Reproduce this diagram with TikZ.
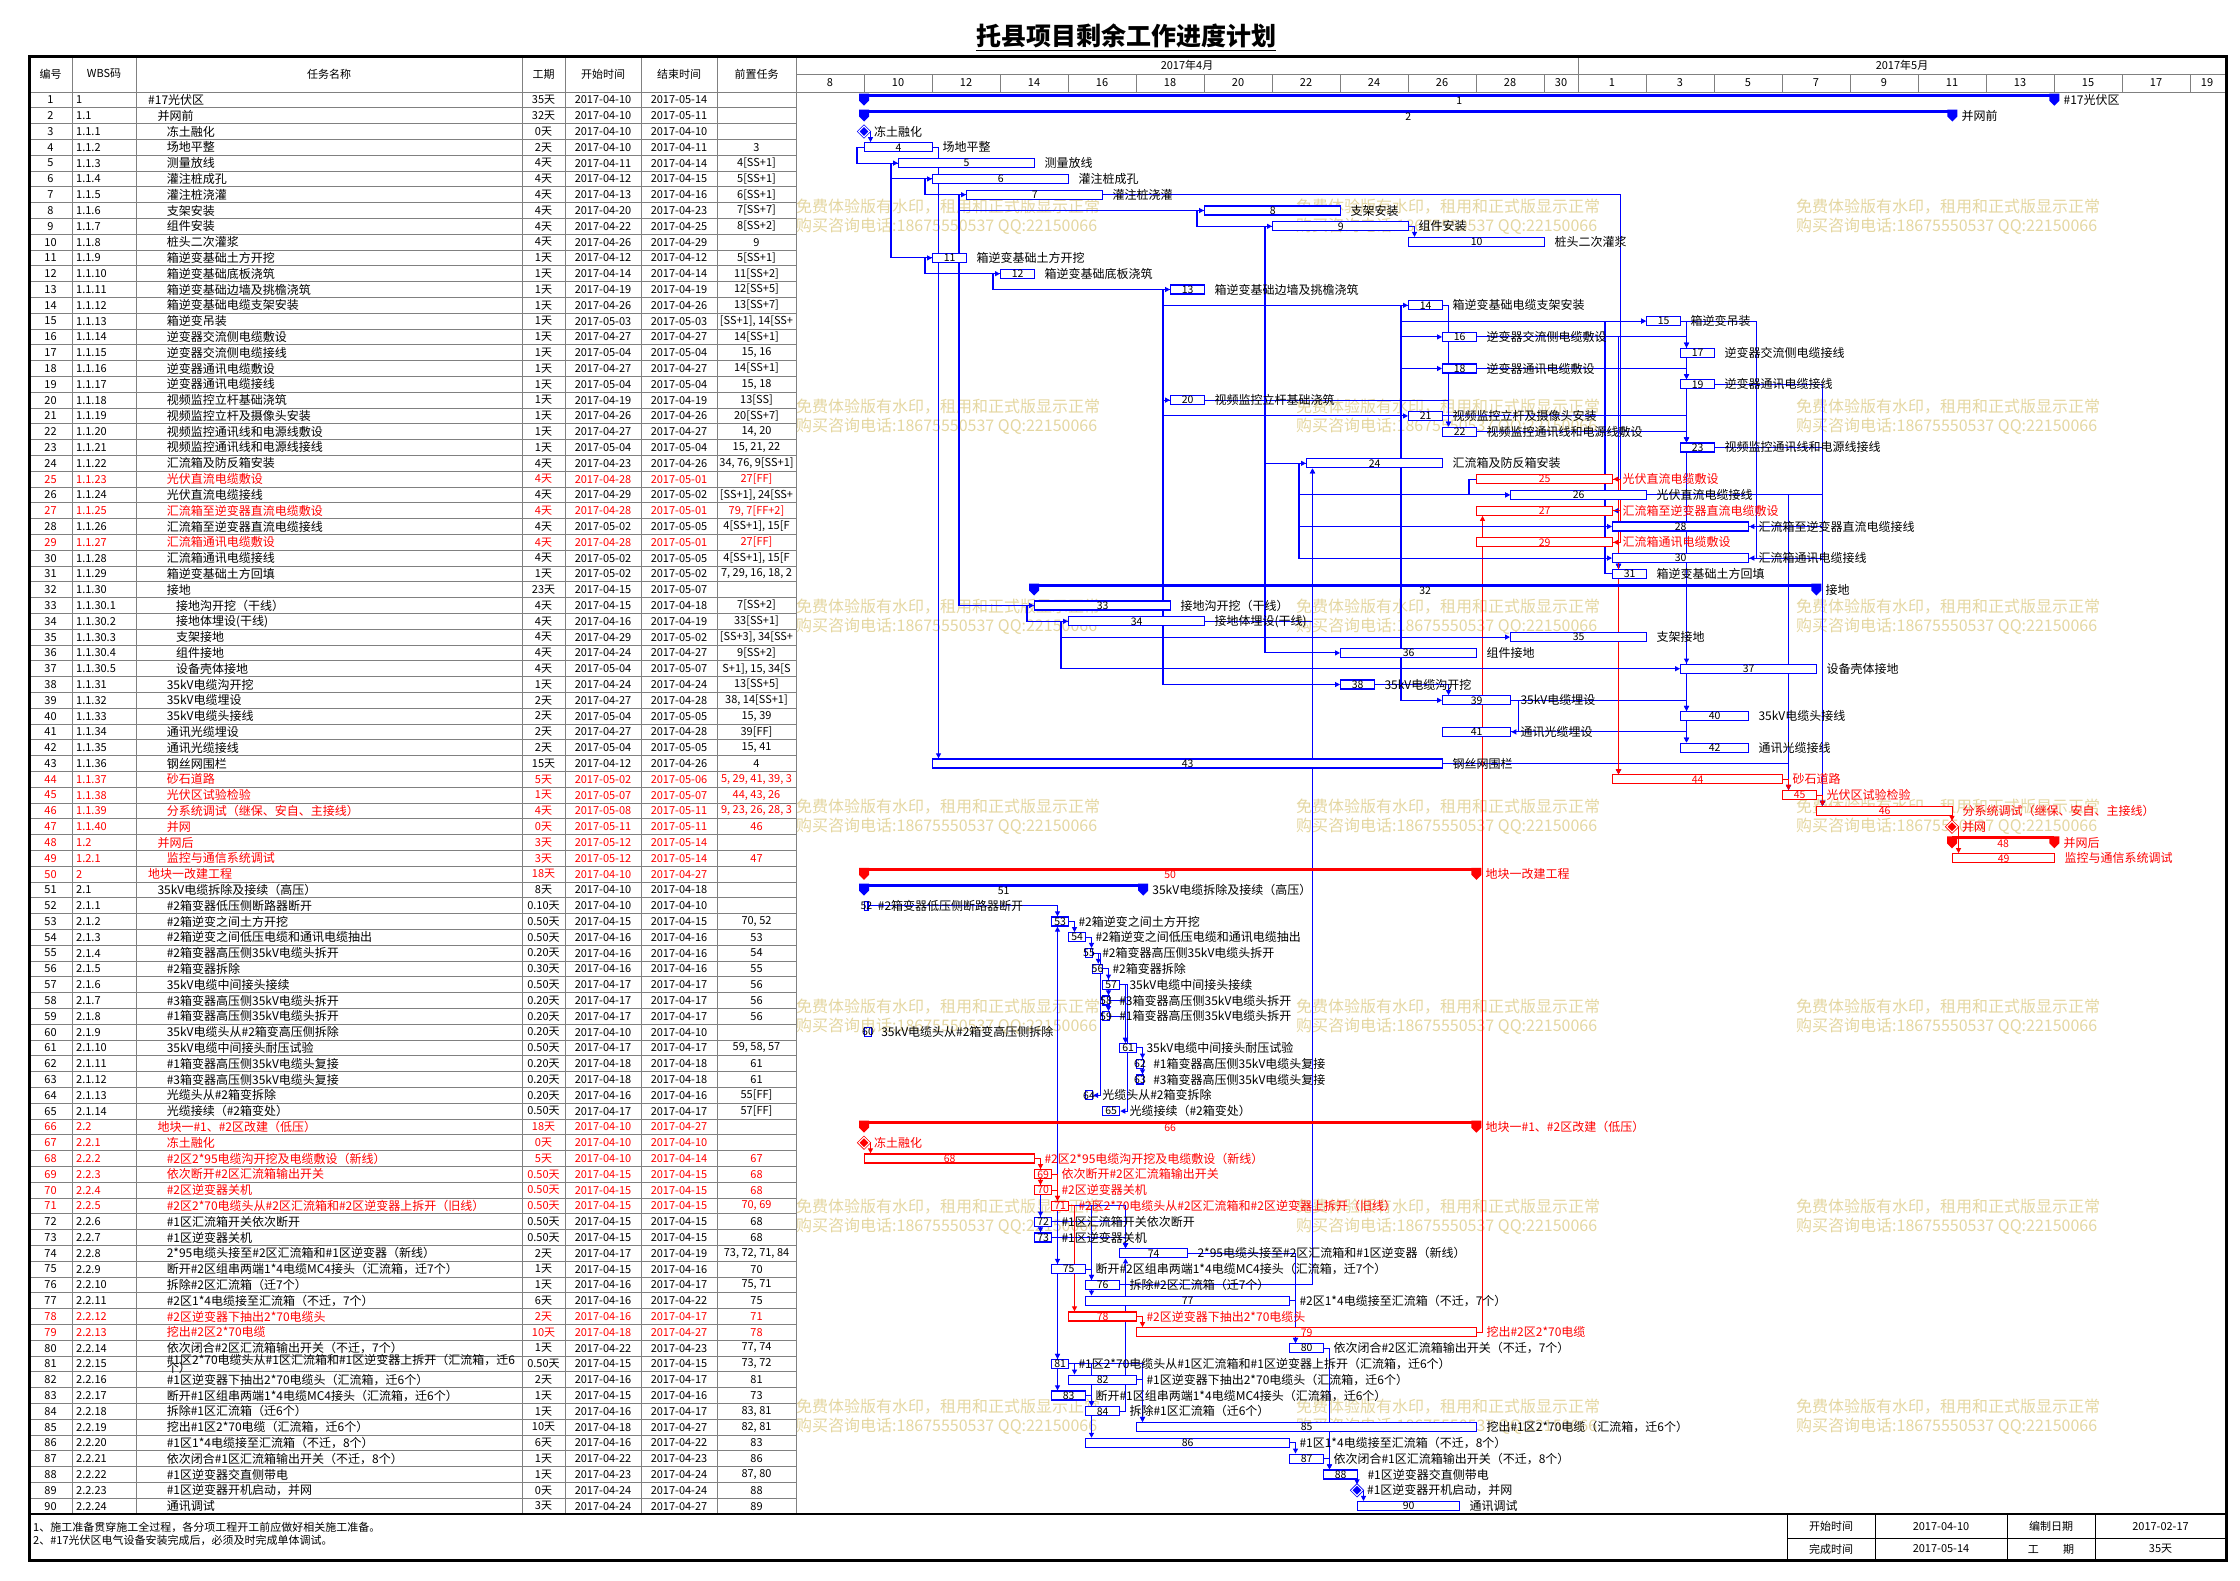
\documentclass[tikz,border=0pt]{standalone}
\usepackage{fontspec}
\setmainfont{Noto Sans CJK SC}
\usetikzlibrary{positioning, arrows.meta, shapes.geometric, backgrounds}
\definecolor{gridgray}{RGB}{128,128,128}
\definecolor{wmark}{RGB}{228,214,160}
\colorlet{barblack}{blue}
\colorlet{barred}{red}

\begin{document}
\begin{tikzpicture}[x=1pt, y=-1pt,
every node/.style={inner sep=0pt, font=\fontsize{11}{12}\selectfont},
grid line/.style={draw=gridgray, line width=0.8pt},
task bar/.style={draw, fill=white, line width=1.3pt, minimum height=9pt, anchor=west},
sum line/.style={minimum height=9pt, anchor=west},
mile/.style={diamond, draw, double=white, double distance=1pt, line width=0.8pt, minimum size=11pt},
num/.style={font=\fontsize{10.5}{11}\selectfont},
lbl/.style={font=\fontsize{12}{13}\selectfont},
wm/.style={anchor=west, text=wmark, font=\fontsize{16}{18}\selectfont},
link/.style={-{Triangle[length=5pt,width=5pt]}, blue, line width=1.1pt},
crit link/.style={link, red},
sumend/.pic={\fill (-5pt,1.5pt) -- (5pt,1.5pt) -- (5pt,-5.5pt) -- (0pt,-10.5pt) -- (-5pt,-5.5pt) -- cycle;},
]
\useasboundingbox (0,0) rectangle (2240,1580);

% watermark
\begin{scope}[on background layer]
\foreach \wx in {796,1296,1796}
  \foreach \wy in {207,407,...,1407} {
    \node[wm] (wa\wx\wy) at (\wx,\wy) {免费体验版有水印，租用和正式版显示正常};
    \node[wm] (wb\wx\wy) at (\wx,\wy+19) {购买咨询电话:18675550537 QQ:22150066};
  }
\end{scope}

% title
\node[font=\fontsize{25}{28}\selectfont\bfseries] (title) at (1126,36) {托县项目剩余工作进度计划};
\draw[line width=1.2pt] ([yshift=-2pt]title.south west) -- ([yshift=-2pt]title.south east);

% table grid
\foreach \rw in {1,...,89}
  \draw[grid line] (29,{92+15.8*\rw}) -- (796,{92+15.8*\rw});
\foreach \cx in {72,136,522,565,641,717,796}
  \draw[grid line] (\cx,56) -- (\cx,1514);
\draw[grid line] (29,92) -- (2226,92);
\draw[grid line] (796,74) -- (2226,74);

% table header
\node (h1) at (50.5,74) {编号};
\node (h2) at (104,74) {WBS码};
\node (h3) at (329,74) {任务名称};
\node (h4) at (543.5,74) {工期};
\node (h5) at (603,74) {开始时间};
\node (h6) at (679,74) {结束时间};
\node (h7) at (756.5,74) {前置任务};

% time scale
\node (m4) at (1187,65) {2017年4月};
\node (m5) at (1902,65) {2017年5月};
\draw[grid line] (1578,56) -- (1578,92);
\foreach \dy in {8,10,...,28} {
  \node (da\dy) at ({796+(\dy-8)*34+34},83) {\dy};
  \draw[grid line] ({796+(\dy-8)*34+68},74) -- ({796+(\dy-8)*34+68},92);
}
\node (da30) at (1561,83) {30};
\foreach \dy in {1,3,...,17} {
  \node (db\dy) at ({1578+(\dy-1)*34+34},83) {\dy};
  \draw[grid line] ({1578+(\dy-1)*34+68},74) -- ({1578+(\dy-1)*34+68},92);
}
\node (db19) at (2207,83) {19};

% tasks: table row and bar
\foreach \id/\wbs/\lv/\nm/\du/\st/\en/\pr/\cl/\ty/\bs/\bd in {
1/1/0/{\#17光伏区}/35天/04-10/05-14/{}/black/S/10/35,
2/1.1/1/{并网前}/32天/04-10/05-11/{}/black/S/10/32,
3/1.1.1/2/{冻土融化}/0天/04-10/04-10/{}/black/M/10/0,
4/1.1.2/2/{场地平整}/2天/04-10/04-11/3/black/T/10/2,
5/1.1.3/2/{测量放线}/4天/04-11/04-14/{4[SS+1]}/black/T/11/4,
6/1.1.4/2/{灌注桩成孔}/4天/04-12/04-15/{5[SS+1]}/black/T/12/4,
7/1.1.5/2/{灌注桩浇灌}/4天/04-13/04-16/{6[SS+1]}/black/T/13/4,
8/1.1.6/2/{支架安装}/4天/04-20/04-23/{7[SS+7]}/black/T/20/4,
9/1.1.7/2/{组件安装}/4天/04-22/04-25/{8[SS+2]}/black/T/22/4,
10/1.1.8/2/{桩头二次灌浆}/4天/04-26/04-29/9/black/T/26/4,
11/1.1.9/2/{箱逆变基础土方开挖}/1天/04-12/04-12/{5[SS+1]}/black/T/12/1,
12/1.1.10/2/{箱逆变基础底板浇筑}/1天/04-14/04-14/{11[SS+2]}/black/T/14/1,
13/1.1.11/2/{箱逆变基础边墙及挑檐浇筑}/1天/04-19/04-19/{12[SS+5]}/black/T/19/1,
14/1.1.12/2/{箱逆变基础电缆支架安装}/1天/04-26/04-26/{13[SS+7]}/black/T/26/1,
15/1.1.13/2/{箱逆变吊装}/1天/05-03/05-03/{[SS+1], 14[SS+}/black/T/33/1,
16/1.1.14/2/{逆变器交流侧电缆敷设}/1天/04-27/04-27/{14[SS+1]}/black/T/27/1,
17/1.1.15/2/{逆变器交流侧电缆接线}/1天/05-04/05-04/{15, 16}/black/T/34/1,
18/1.1.16/2/{逆变器通讯电缆敷设}/1天/04-27/04-27/{14[SS+1]}/black/T/27/1,
19/1.1.17/2/{逆变器通讯电缆接线}/1天/05-04/05-04/{15, 18}/black/T/34/1,
20/1.1.18/2/{视频监控立杆基础浇筑}/1天/04-19/04-19/{13[SS]}/black/T/19/1,
21/1.1.19/2/{视频监控立杆及摄像头安装}/1天/04-26/04-26/{20[SS+7]}/black/T/26/1,
22/1.1.20/2/{视频监控通讯线和电源线敷设}/1天/04-27/04-27/{14, 20}/black/T/27/1,
23/1.1.21/2/{视频监控通讯线和电源线接线}/1天/05-04/05-04/{15, 21, 22}/black/T/34/1,
24/1.1.22/2/{汇流箱及防反箱安装}/4天/04-23/04-26/{34, 76, 9[SS+1]}/black/T/23/4,
25/1.1.23/2/{光伏直流电缆敷设}/4天/04-28/05-01/{27[FF]}/red/T/28/4,
26/1.1.24/2/{光伏直流电缆接线}/4天/04-29/05-02/{[SS+1], 24[SS+}/black/T/29/4,
27/1.1.25/2/{汇流箱至逆变器直流电缆敷设}/4天/04-28/05-01/{79, 7[FF+2]}/red/T/28/4,
28/1.1.26/2/{汇流箱至逆变器直流电缆接线}/4天/05-02/05-05/{4[SS+1], 15[F}/black/T/32/4,
29/1.1.27/2/{汇流箱通讯电缆敷设}/4天/04-28/05-01/{27[FF]}/red/T/28/4,
30/1.1.28/2/{汇流箱通讯电缆接线}/4天/05-02/05-05/{4[SS+1], 15[F}/black/T/32/4,
31/1.1.29/2/{箱逆变基础土方回填}/1天/05-02/05-02/{7, 29, 16, 18, 2}/black/T/32/1,
32/1.1.30/2/{接地}/23天/04-15/05-07/{}/black/S/15/23,
33/1.1.30.1/3/{接地沟开挖（干线）}/4天/04-15/04-18/{7[SS+2]}/black/T/15/4,
34/1.1.30.2/3/{接地体埋设(干线)}/4天/04-16/04-19/{33[SS+1]}/black/T/16/4,
35/1.1.30.3/3/{支架接地}/4天/04-29/05-02/{[SS+3], 34[SS+}/black/T/29/4,
36/1.1.30.4/3/{组件接地}/4天/04-24/04-27/{9[SS+2]}/black/T/24/4,
37/1.1.30.5/3/{设备壳体接地}/4天/05-04/05-07/{S+1], 15, 34[S}/black/T/34/4,
38/1.1.31/2/{35kV电缆沟开挖}/1天/04-24/04-24/{13[SS+5]}/black/T/24/1,
39/1.1.32/2/{35kV电缆埋设}/2天/04-27/04-28/{38, 14[SS+1]}/black/T/27/2,
40/1.1.33/2/{35kV电缆头接线}/2天/05-04/05-05/{15, 39}/black/T/34/2,
41/1.1.34/2/{通讯光缆埋设}/2天/04-27/04-28/{39[FF]}/black/T/27/2,
42/1.1.35/2/{通讯光缆接线}/2天/05-04/05-05/{15, 41}/black/T/34/2,
43/1.1.36/2/{钢丝网围栏}/15天/04-12/04-26/4/black/T/12/15,
44/1.1.37/2/{砂石道路}/5天/05-02/05-06/{5, 29, 41, 39, 3}/red/T/32/5,
45/1.1.38/2/{光伏区试验检验}/1天/05-07/05-07/{44, 43, 26}/red/T/37/1,
46/1.1.39/2/{分系统调试（继保、安自、主接线）}/4天/05-08/05-11/{9, 23, 26, 28, 3}/red/T/38/4,
47/1.1.40/2/{并网}/0天/05-11/05-11/46/red/M/42/0,
48/1.2/1/{并网后}/3天/05-12/05-14/{}/red/S/42/3,
49/1.2.1/2/{监控与通信系统调试}/3天/05-12/05-14/47/red/T/42/3,
50/2/0/{地块一改建工程}/18天/04-10/04-27/{}/red/S/10/18,
51/2.1/1/{35kV电缆拆除及接续（高压）}/8天/04-10/04-18/{}/black/S/10/8.2,
52/2.1.1/2/{\#2箱变器低压侧断路器断开}/0.10天/04-10/04-10/{}/black/T/10/0.1,
53/2.1.2/2/{\#2箱逆变之间土方开挖}/0.50天/04-15/04-15/{70, 52}/black/T/15.5/0.5,
54/2.1.3/2/{\#2箱逆变之间低压电缆和通讯电缆抽出}/0.50天/04-16/04-16/53/black/T/16/0.5,
55/2.1.4/2/{\#2箱变器高压侧35kV电缆头拆开}/0.20天/04-16/04-16/54/black/T/16.5/0.2,
56/2.1.5/2/{\#2箱变器拆除}/0.30天/04-16/04-16/55/black/T/16.7/0.3,
57/2.1.6/2/{35kV电缆中间接头接续}/0.50天/04-17/04-17/56/black/T/17/0.5,
58/2.1.7/2/{\#3箱变器高压侧35kV电缆头拆开}/0.20天/04-17/04-17/56/black/T/17/0.2,
59/2.1.8/2/{\#1箱变器高压侧35kV电缆头拆开}/0.20天/04-17/04-17/56/black/T/17/0.2,
60/2.1.9/2/{35kV电缆头从\#2箱变高压侧拆除}/0.20天/04-10/04-10/{}/black/T/10/0.2,
61/2.1.10/2/{35kV电缆中间接头耐压试验}/0.50天/04-17/04-17/{59, 58, 57}/black/T/17.5/0.5,
62/2.1.11/2/{\#1箱变器高压侧35kV电缆头复接}/0.20天/04-18/04-18/61/black/T/18/0.2,
63/2.1.12/2/{\#3箱变器高压侧35kV电缆头复接}/0.20天/04-18/04-18/61/black/T/18/0.2,
64/2.1.13/2/{光缆头从\#2箱变拆除}/0.20天/04-16/04-16/{55[FF]}/black/T/16.5/0.2,
65/2.1.14/2/{光缆接续（\#2箱变处）}/0.50天/04-17/04-17/{57[FF]}/black/T/17/0.5,
66/2.2/1/{地块一\#1、\#2区改建（低压）}/18天/04-10/04-27/{}/red/S/10/18,
67/2.2.1/2/{冻土融化}/0天/04-10/04-10/{}/red/M/10/0,
68/2.2.2/2/{\#2区2*95电缆沟开挖及电缆敷设（新线）}/5天/04-10/04-14/67/red/T/10/5,
69/2.2.3/2/{依次断开\#2区汇流箱输出开关}/0.50天/04-15/04-15/68/red/T/15/0.5,
70/2.2.4/2/{\#2区逆变器关机}/0.50天/04-15/04-15/68/red/T/15/0.5,
71/2.2.5/2/{\#2区2*70电缆头从\#2区汇流箱和\#2区逆变器上拆开（旧线）}/0.50天/04-15/04-15/{70, 69}/red/T/15.5/0.5,
72/2.2.6/2/{\#1区汇流箱开关依次断开}/0.50天/04-15/04-15/68/black/T/15/0.5,
73/2.2.7/2/{\#1区逆变器关机}/0.50天/04-15/04-15/68/black/T/15/0.5,
74/2.2.8/2/{2*95电缆头接至\#2区汇流箱和\#1区逆变器（新线）}/2天/04-17/04-19/{73, 72, 71, 84}/black/T/17.5/2,
75/2.2.9/2/{断开\#2区组串两端1*4电缆MC4接头（汇流箱，迁7个）}/1天/04-15/04-16/70/black/T/15.5/1,
76/2.2.10/2/{拆除\#2区汇流箱（迁7个）}/1天/04-16/04-17/{75, 71}/black/T/16.5/1,
77/2.2.11/2/{\#2区1*4电缆接至汇流箱（不迁，7个）}/6天/04-16/04-22/75/black/T/16.5/6,
78/2.2.12/2/{\#2区逆变器下抽出2*70电缆头}/2天/04-16/04-17/71/red/T/16/2,
79/2.2.13/2/{挖出\#2区2*70电缆}/10天/04-18/04-27/78/red/T/18/10,
80/2.2.14/2/{依次闭合\#2区汇流箱输出开关（不迁，7个）}/1天/04-22/04-23/{77, 74}/black/T/22.5/1,
81/2.2.15/2/{\#1区2*70电缆头从\#1区汇流箱和\#1区逆变器上拆开（汇流箱，迁6个）}/0.50天/04-15/04-15/{73, 72}/black/T/15.5/0.5,
82/2.2.16/2/{\#1区逆变器下抽出2*70电缆头（汇流箱，迁6个）}/2天/04-16/04-17/81/black/T/16/2,
83/2.2.17/2/{断开\#1区组串两端1*4电缆MC4接头（汇流箱，迁6个）}/1天/04-15/04-16/73/black/T/15.5/1,
84/2.2.18/2/{拆除\#1区汇流箱（迁6个）}/1天/04-16/04-17/{83, 81}/black/T/16.5/1,
85/2.2.19/2/{挖出\#1区2*70电缆（汇流箱，迁6个）}/10天/04-18/04-27/{82, 81}/black/T/18/10,
86/2.2.20/2/{\#1区1*4电缆接至汇流箱（不迁，8个）}/6天/04-16/04-22/83/black/T/16.5/6,
87/2.2.21/2/{依次闭合\#1区汇流箱输出开关（不迁，8个）}/1天/04-22/04-23/86/black/T/22.5/1,
88/2.2.22/2/{\#1区逆变器交直侧带电}/1天/04-23/04-24/{87, 80}/black/T/23.5/1,
89/2.2.23/2/{\#1区逆变器开机启动，并网}/0天/04-24/04-24/88/black/M/24.5/0,
90/2.2.24/2/{通讯调试}/3天/04-24/04-27/89/black/T/24.5/3%
} {
  \node[text=\cl] (no\id) at (50.5,{84.1+15.8*\id}) {\id};
  \node[text=\cl, anchor=west] (wbs\id) at (76,{84.1+15.8*\id}) {\wbs};
  \ifnum\id=81
    \node[lbl, text=\cl, anchor=west, align=left] (nm\id) at ({148+9.3*\lv},{84.1+15.8*\id})
      {\#1区2*70电缆头从\#1区汇流箱和\#1区逆变器上拆开（汇流箱，迁6\\[-5pt]个）};
  \else
    \node[lbl, text=\cl, anchor=west] (nm\id) at ({148+9.3*\lv},{84.1+15.8*\id}) {\nm};
  \fi
  \node[text=\cl] (du\id) at (543.5,{84.1+15.8*\id}) {\du};
  \node[text=\cl] (st\id) at (603,{84.1+15.8*\id}) {2017-\st};
  \node[text=\cl] (en\id) at (679,{84.1+15.8*\id}) {2017-\en};
  \node[text=\cl] (pr\id) at (756.5,{84.1+15.8*\id}) {\pr};
  % bar
  \if\ty T
    \node[task bar, draw=bar\cl, minimum width={\bd*34pt}, label={[num, text=\cl]center:\id}]
      (b\id) at ({796+(\bs-8)*34},{84.1+15.8*\id}) {};
    \node[lbl, text=\cl, right=9pt of b\id] (t\id) {\nm};
  \fi
  \if\ty M
    \node[mile, draw=bar\cl, fill=bar\cl] (b\id) at ({796+(\bs-8)*34},{84.1+15.8*\id}) {};
    \node[lbl, text=\cl, right=4pt of b\id] (t\id) {\nm};
  \fi
  \if\ty S
    \node[sum line, minimum width={\bd*34pt}] (b\id) at ({796+(\bs-8)*34},{84.1+15.8*\id}) {};
    \fill[bar\cl] ([yshift=1.5pt]b\id.north west) rectangle ([yshift=-1.5pt]b\id.north east);
    \pic[bar\cl] at (b\id.north west) {sumend};
    \pic[bar\cl] at (b\id.north east) {sumend};
    \node[num, text=\cl] (n\id) at ([yshift=-1pt]b\id.center) {\id};
    \node[lbl, text=\cl, right=9pt of b\id] (t\id) {\nm};
  \fi
}

% links
\begin{scope}[on background layer]
\foreach \fa/\ta in {3/4, 9/10, 15/17, 16/17, 15/19, 18/19, 14/22, 20/22, 15/23, 21/23, 22/23,
  34/24, 76/24, 27/31, 29/31, 16/31, 18/31, 22/31, 15/37, 38/39, 15/40, 39/40, 15/42, 41/42,
  4/43, 41/44, 39/44, 43/45, 26/45, 19/46, 23/46, 26/46, 28/46, 30/46, 52/53, 70/53, 53/54,
  54/55, 55/56, 56/57, 56/58, 56/59, 59/61, 58/61, 57/61, 61/62, 61/63, 68/72, 68/73, 73/74,
  72/74, 71/74, 84/74, 70/75, 75/76, 71/76, 75/77, 77/80, 74/80, 73/81, 72/81, 81/82, 73/83,
  83/84, 81/84, 82/85, 81/85, 83/86, 86/87, 87/88, 80/88, 89/90} {
  \ifnum\ta<\fa
    \draw[link] (b\fa.east) -| ([xshift=6.5pt]b\ta.south west);
  \else
    \draw[link] (b\fa.east) -| ([xshift=6.5pt]b\ta.north west);
  \fi
}
\foreach \fa/\ta in {79/27, 25/44, 29/44, 44/45, 45/46, 47/49, 67/68, 68/69, 68/70, 70/71,
  69/71, 71/78, 78/79} {
  \ifnum\ta<\fa
    \draw[crit link] (b\fa.east) -| ([xshift=6.5pt]b\ta.south west);
  \else
    \draw[crit link] (b\fa.east) -| ([xshift=6.5pt]b\ta.north west);
  \fi
}
\draw[link] (b88.east) -| (b89.north);
\draw[crit link] (b46.east) -| (b47.north);
\foreach \fa/\ta in {4/5, 5/6, 6/7, 7/8, 8/9, 5/11, 11/12, 12/13, 13/14, 31/15, 14/15, 14/16,
  14/18, 13/20, 20/21, 9/24, 25/26, 24/26, 24/28, 24/30, 7/33, 33/34, 34/35, 9/36, 34/37,
  13/38, 14/39}
  \draw[link] (b\fa.west) -- ++(-7pt,0pt) |- (b\ta.west);
\foreach \fa/\ta in {7/27, 15/28, 15/30, 39/41, 55/64, 57/65}
  \draw[link] (b\fa.east) -| ([xshift=7pt]b\ta.east) -- (b\ta.east);
\foreach \fa/\ta in {27/25, 27/29}
  \draw[crit link] (b\fa.east) -| ([xshift=7pt]b\ta.east) -- (b\ta.east);
\end{scope}

% frame and footer
\draw[line width=3pt] (29,56) rectangle (2226,1560);
\draw[line width=2pt] (29,1514) -- (2226,1514);
\foreach \cx in {1787,1875,2007,2095}
  \draw[line width=1pt] (\cx,1514) -- (\cx,1560);
\draw[line width=1pt] (1787,1538) -- (2226,1538);

\node[anchor=west] (note1) at (33,1527) {1、施工准备贯穿施工全过程，各分项工程开工前应做好相关施工准备。};
\node[anchor=west] (note2) at (33,1540) {2、\#17光伏区电气设备安装完成后，必须及时完成单体调试。};

\node (kssj) at (1831,1526.5) {开始时间};
\node (ksrq) at (1941,1526.5) {2017-04-10};
\node (bzrq) at (2051,1526.5) {编制日期};
\node (bzsj) at (2160.5,1526.5) {2017-02-17};
\node (wcsj) at (1831,1549) {完成时间};
\node (wcrq) at (1941,1549) {2017-05-14};
\node (gq) at (2051,1549) {工\hspace{2.2em}期};
\node (gqts) at (2160.5,1549) {35天};
\end{tikzpicture}
\end{document}
